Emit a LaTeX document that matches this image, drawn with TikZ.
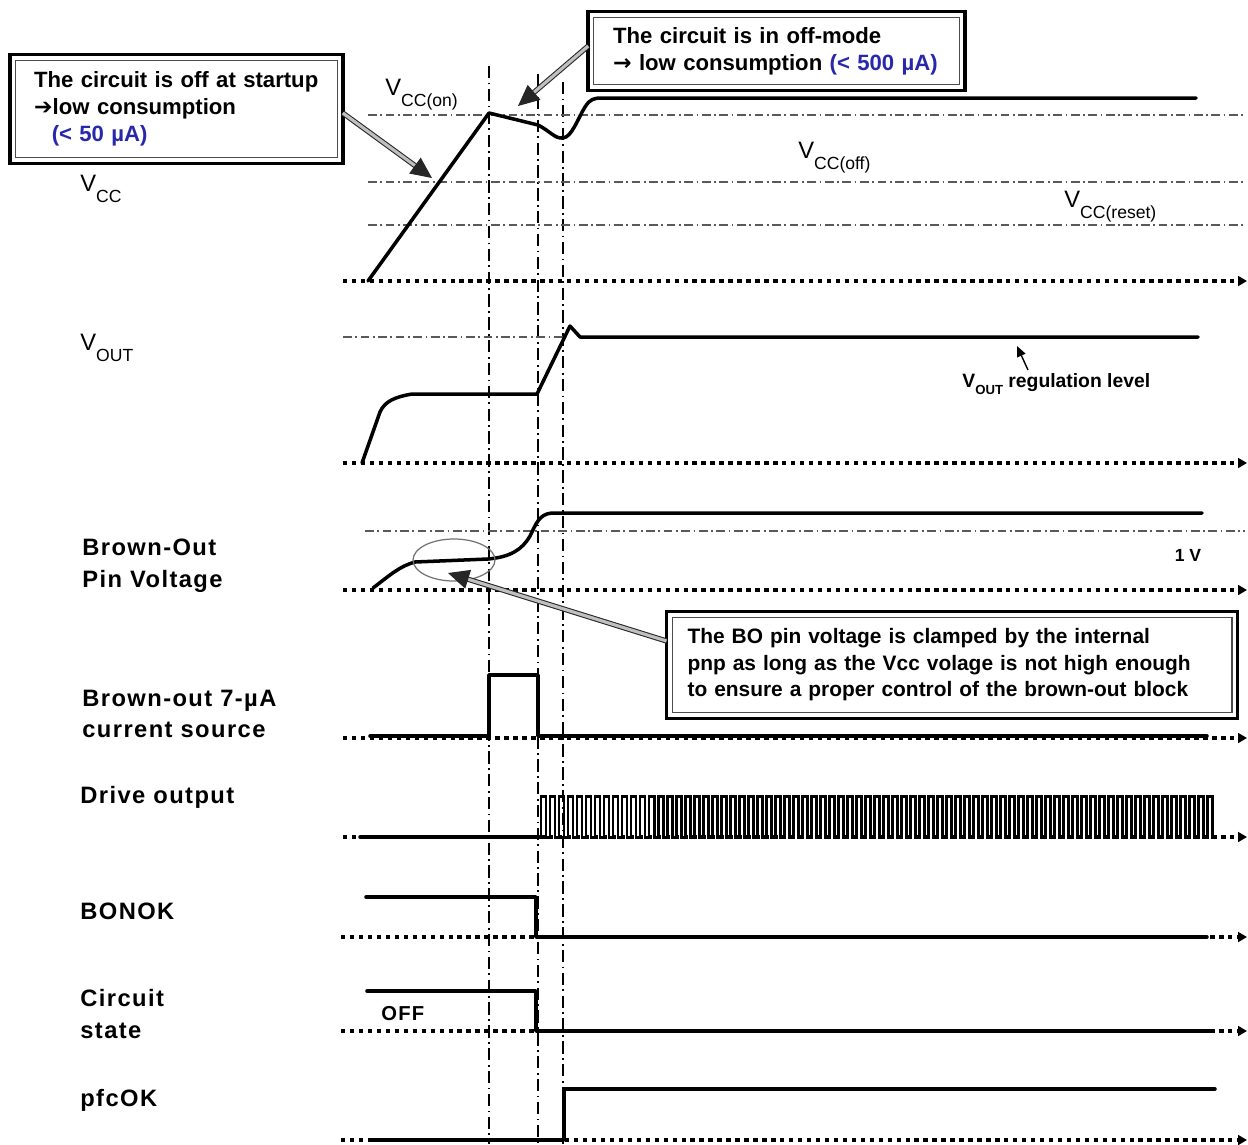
\documentclass[tikz,border=0pt]{standalone}
\usepackage{fontspec}
\setmainfont{Liberation Sans}
\newfontfamily\dejavu{DejaVu Sans}
\newfontfamily\labfont[LetterSpace=6]{Liberation Sans}
\usetikzlibrary{arrows.meta,calc}
\definecolor{cblue}{RGB}{40,40,170}
\newcommand\Vs[2]{#1\raisebox{-0.9ex}{\fontsize{10}{10}\selectfont #2}}
\begin{document}
\begin{tikzpicture}[x=0.02cm,y=-0.02cm,
  wave/.style={line width=2pt,line join=round,line cap=round},
  pulse/.style={line width=1.7pt,line join=miter},
  base/.style={line width=2.3pt,dash pattern=on 2.5pt off 2.6pt,-{Triangle[length=5pt,width=5.5pt]}},
  thr/.style={line width=0.7pt,black!65,dash pattern=on 5pt off 2pt on 1pt off 2pt},
  vline/.style={line width=0.8pt,dash pattern=on 7pt off 2.5pt on 1pt off 2.5pt},
  lab/.style={anchor=west,inner sep=0pt,align=left,font=\labfont\bfseries\fontsize{13.5}{18}\selectfont},
  vlab/.style={anchor=west,inner sep=0pt,font=\fontsize{13.5}{14}\selectfont},
  callout/.style={draw=black!70,line width=0.6pt,align=left,inner sep=0pt,
     font=\bfseries\fontsize{12.6}{15.3}\selectfont},
  dblarrow/.style={draw=black!85,double=black!25,double distance=1.8pt,line width=0.6pt,
     -{Triangle[length=12pt,width=11pt]}},
]
\useasboundingbox (0,0) rectangle (1248,1144);
\fill[white] (0,0) rectangle (1248,1144);

% vertical reference lines
\coordinate (v1t) at (489,66); \coordinate (v1b) at (489,1144);
\coordinate (v2t) at (538,74); \coordinate (v2b) at (538,1144);
\coordinate (v3t) at (563,82); \coordinate (v3b) at (563,1144);
\draw[vline] (v1t) -- (v1b);
\draw[vline] (v2t) -- (v2b);
\draw[vline] (v3t) -- (v3b);

% ---------------- VCC
\coordinate (b1s) at (343,281); \coordinate (b1e) at (1247,281);
\draw[base] (b1s) -- (b1e);
\draw[thr] (368,115) -- (1245,115);
\draw[thr] (368,182) -- (1245,182);
\draw[thr] (368,225) -- (1245,225);
\draw[wave] (368,281) -- (489,113) -- (538,125)
  .. controls (550,131) and (555,139) .. (563,138)
  .. controls (572,137) and (578,118) .. (585,107)
  .. controls (590,99) and (594,98) .. (602,98) -- (1196,98);
\node[vlab] (lvcc) at (80,189) {\Vs{V}{CC}};
\node[vlab] (lvon) at (385,95) {\Vs{V}{CC(on)}};
\node[vlab] (lvoff) at (798,158) {\Vs{V}{CC(off)}};
\node[vlab] (lvres) at (1064,207) {\Vs{V}{CC(reset)}};

% ---------------- VOUT
\draw[base] (343,463) -- (1247,463);
\draw[thr] (343,337) -- (565,337);
\draw[wave] (362,463) -- (380,412) .. controls (385,401) and (395,397) .. (412,394)
  -- (537,394) -- (570,326) -- (580,337) -- (1198,337);
\node[vlab] (lvout) at (80,348) {\Vs{V}{OUT}};
\node[anchor=west,inner sep=0pt,font=\bfseries\fontsize{11}{12}\selectfont] (lreg) at (962,384)
  {V\raisebox{-0.7ex}{\fontsize{7.5}{8}\selectfont OUT} regulation level};
\coordinate (regtail) at (1028,370); \coordinate (regtip) at (1017,346);
\draw[line width=0.8pt,-{Triangle[length=6pt,width=5pt]}] (regtail) -- (regtip);

% ---------------- Brown-out pin voltage
\draw[base] (343,590) -- (1247,590);
\draw[thr] (365,531) -- (1245,531);
\draw[wave] (373,588) .. controls (390,575) and (400,566) .. (415,562) -- (488,559)
  .. controls (510,557) and (522,550) .. (530,536)
  .. controls (536,524) and (539,514) .. (552,513) -- (1202,513);
\draw[black!55,line width=0.7pt] (454,560) ellipse [x radius=41, y radius=21];
\node[anchor=center,inner sep=0pt,font=\bfseries\fontsize{10}{12}\selectfont] (l1v) at (1188,555) {1 V};
\node[lab] (lbo) at (82,566) {Brown-Out\\Pin Voltage};

% ---------------- 7uA current source
\draw[base] (343,738) -- (1247,738);
\draw[wave] (370,736) -- (489,736) -- (489,675) -- (538,675) -- (538,736) -- (1207,736);
\node[lab] (lcs) at (82,714) {Brown-out 7-µA\\current source};

% ---------------- Drive output
\draw[base] (343,837) -- (1247,837);
\draw[wave] (360,837) -- (541,837);
\draw[pulse] (541,837) \foreach \i in {0,...,74}{ -- ++(0,-41) -- ++(5,0) -- ++(0,41) -- ++(4,0)};
\node[lab] (ldrv) at (80,797) {Drive output};

% ---------------- BONOK
\draw[base] (341,937) -- (1247,937);
\draw[wave] (366,897) -- (536,897) -- (536,937) -- (1207,937);
\node[lab] (lbon) at (80,911) {BONOK};

% ---------------- Circuit state
\draw[base] (341,1031) -- (1247,1031);
\draw[wave] (367,991) -- (536,991) -- (536,1031) -- (1210,1031);
\node[anchor=west,inner sep=0pt,font=\labfont\bfseries\fontsize{11.5}{12}\selectfont] (loff) at (381,1014) {OFF};
\node[lab] (lcst) at (80,1014) {Circuit\\state};

% ---------------- pfcOK
\draw[base] (341,1140) -- (1247,1140);
\draw[wave] (370,1140) -- (564,1140) -- (564,1089) -- (1215,1089);
\node[lab] (lpfc) at (80,1100) {pfcOK};

% ---------------- callouts
\node[callout,minimum width=183pt,minimum height=55.6pt,text width=162pt] (cb1) at (176.5,109)
  {The circuit is off at startup\\{\dejavu\char"2794}low consumption\\\hspace*{10pt}{\color{cblue}(< 50 µA)}};
\draw[line width=2pt] ([shift={(-5,5)}]cb1.south west) rectangle ([shift={(5,-5)}]cb1.north east);

\node[callout,minimum width=208pt,minimum height=38.6pt,text width=186pt] (cb2) at (776.5,51)
  {The circuit is in off-mode\\{\dejavu\char"2192} low consumption {\color{cblue}(< 500 µA)}};
\draw[line width=2pt] ([shift={(-5,5)}]cb2.south west) rectangle ([shift={(5,-5)}]cb2.north east);

\node[callout,minimum width=318.7pt,minimum height=54.4pt,text width=301pt,
  font=\bfseries\fontsize{11.9}{15.1}\selectfont] (cb3) at (952,665)
  {The BO pin voltage is clamped by the internal\\pnp as long as the Vcc volage is not high enough\\to ensure a proper control of the brown-out block};
\draw[line width=2pt] ([shift={(-5,5)}]cb3.south west) rectangle ([shift={(5,-5)}]cb3.north east);

\coordinate (tip1) at (432,178);
\coordinate (tip2) at (518,106);
\coordinate (tip3) at (448,573);
\draw[dblarrow] ([shift={(5,4)}]cb1.east) -- (tip1);
\draw[dblarrow] ([shift={(-5,-5)}]cb2.west) -- (tip2);
\draw[dblarrow] ([shift={(-5,-24)}]cb3.west) -- (tip3);
\end{tikzpicture}
\end{document}
